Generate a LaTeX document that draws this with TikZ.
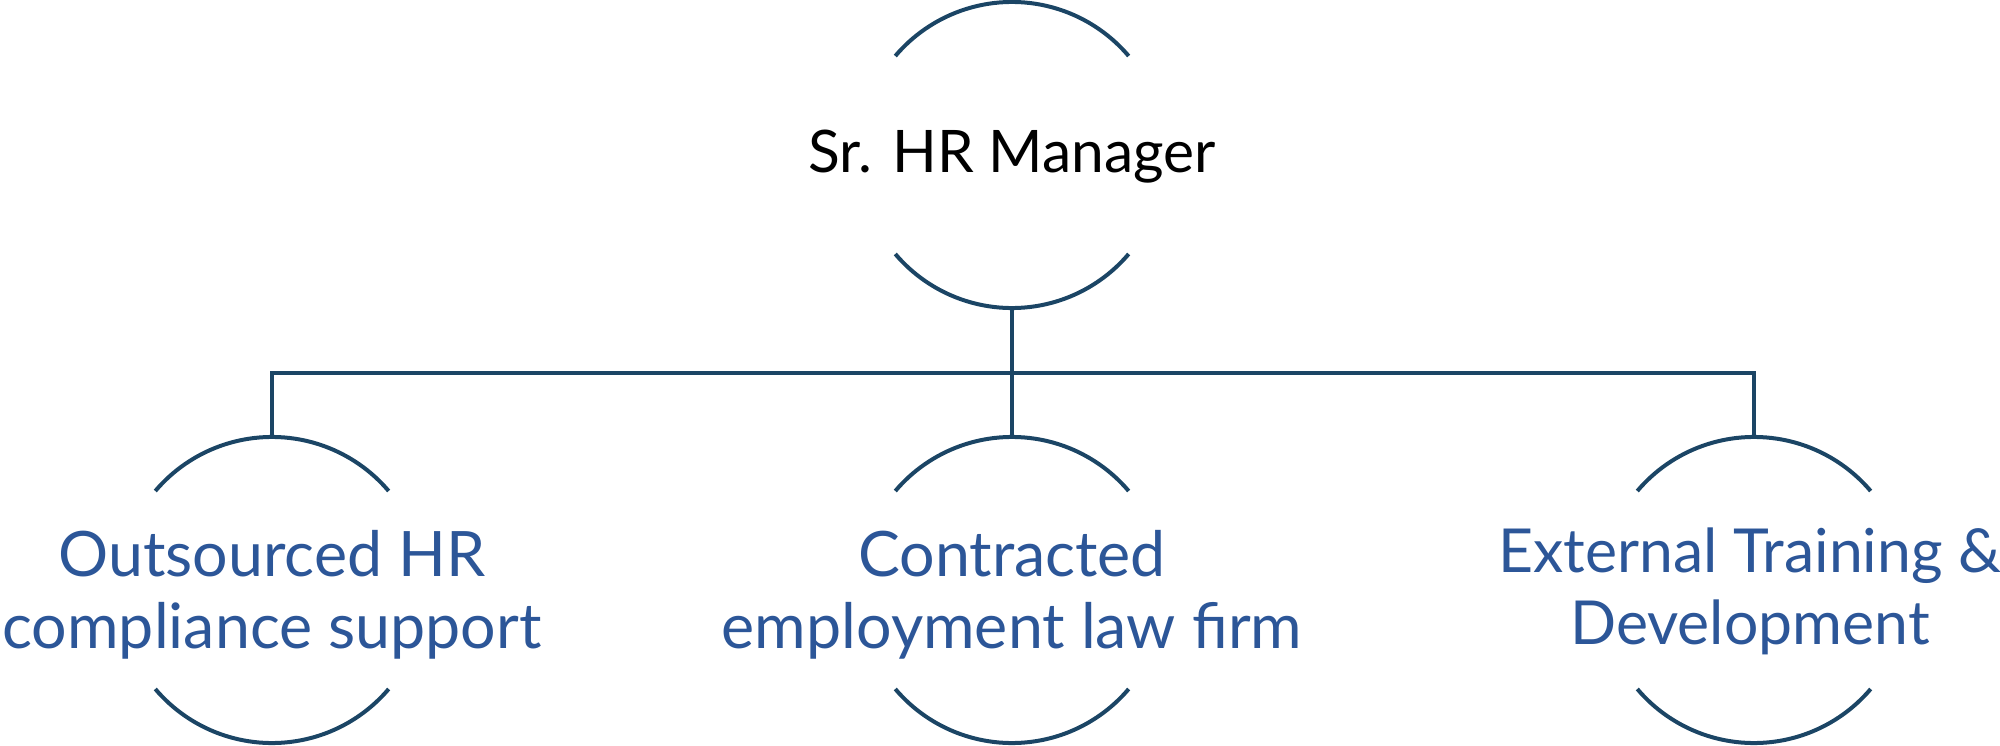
\documentclass[tikz,border=0pt]{standalone}
\usepackage{fontspec}
\setmainfont{Lato}
\definecolor{ringnavy}{RGB}{27,69,101}
\definecolor{unitblue}{RGB}{44,86,152}

\tikzset{
  ring/.style={draw=ringnavy, line width=3pt},
  link/.style={draw=ringnavy, line width=3pt},
  headtext/.style={font=\fontsize{44}{54}\selectfont, text=black, inner sep=0pt},
  unittext/.style={font=\fontsize{47}{54}\selectfont, text=unitblue, align=center, inner sep=0pt}
}

\begin{document}
\begin{tikzpicture}[x=0.75pt,y=0.75pt,yscale=-1,xscale=1]
\useasboundingbox (0,0) rectangle (2000,746);

%Shape: Arc pair, top
\draw [ring] (895.3,56) arc[start angle=-139.7, end angle=-40.3, radius=153];
\draw [ring] (895.3,254) arc[start angle=139.7, end angle=40.3, radius=153];

%Shape: Arc pair, left
\draw [ring] (155.3,491) arc[start angle=-139.7, end angle=-40.3, radius=153];
\draw [ring] (155.3,689) arc[start angle=139.7, end angle=40.3, radius=153];

%Shape: Arc pair, middle
\draw [ring] (895.3,491) arc[start angle=-139.7, end angle=-40.3, radius=153];
\draw [ring] (895.3,689) arc[start angle=139.7, end angle=40.3, radius=153];

%Shape: Arc pair, right
\draw [ring] (1637.3,491) arc[start angle=-139.7, end angle=-40.3, radius=153];
\draw [ring] (1637.3,689) arc[start angle=139.7, end angle=40.3, radius=153];

% Arc end points
\coordinate (mgrbot) at (1012,308);
\coordinate (bus) at (1012,373);
\coordinate (outtop) at (272,437);
\coordinate (contop) at (1012,437);
\coordinate (exttop) at (1754,437);

%Straight Lines
\draw [link] (mgrbot) -- (contop);
\draw [link] (outtop) |- (bus) -| (exttop);

% Text Node
\node [headtext, anchor=base] (mgr) at (1012,172) {Sr. HR Manager};
% Text Node
\node [unittext, anchor=base] (outsrc) at (272,648) {Outsourced HR\\compliance support};
% Text Node
\node [unittext, anchor=base] (lawfirm) at (1012,648) {Contracted\\employment law firm};
% Text Node
\node [unittext, font=\fontsize{45.5}{54}\selectfont, anchor=base] (training) at (1750,644) {External Training \&\\Development};

\end{tikzpicture}
\end{document}
